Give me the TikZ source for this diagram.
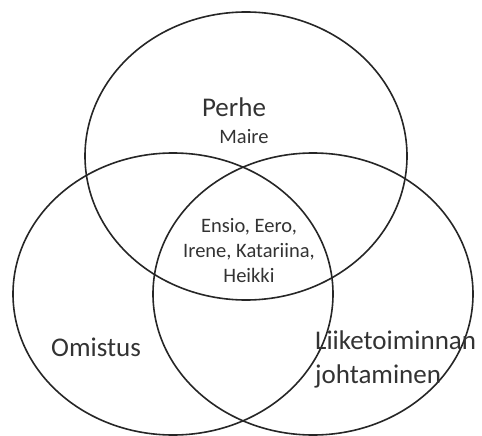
\documentclass[tikz,border=0pt]{standalone}
\usepackage{fontspec}
\setmainfont{Carlito}
\begin{document}
\begin{tikzpicture}[x=1pt,y=-1pt,
  ring/.style={draw=black!85, line width=1.6pt},
  big/.style={font=\fontsize{27}{32}\selectfont, text=black!80, inner sep=0pt},
  small/.style={font=\fontsize{20.5}{25}\selectfont, text=black!80, inner sep=0pt}]
  \useasboundingbox (0,0) rectangle (482,436);
  % three overlapping sets
  \draw[ring] (246,156) ellipse [x radius=161, y radius=144];
  \draw[ring] (173,294) ellipse [x radius=160, y radius=141];
  \draw[ring] (313,294) ellipse [x radius=160, y radius=141];
  % set labels
  \node[big, anchor=base] (perhe) at (234,117) {Perhe};
  \node[small, anchor=base] (maire) at (244,143) {Maire};
  \node[small, anchor=base] (l1) at (249,232) {Ensio, Eero,};
  \node[small, anchor=base] (l2) at (249,257) {Irene, Katariina,};
  \node[small, anchor=base] (l3) at (249,282) {Heikki};
  \node[big, anchor=base] (omistus) at (96,356) {Omistus};
  \node[big, anchor=base west] (lj1) at (315,349) {Liiketoiminnan};
  \node[big, anchor=base west] (lj2) at (315,383) {johtaminen};
\end{tikzpicture}
\end{document}
